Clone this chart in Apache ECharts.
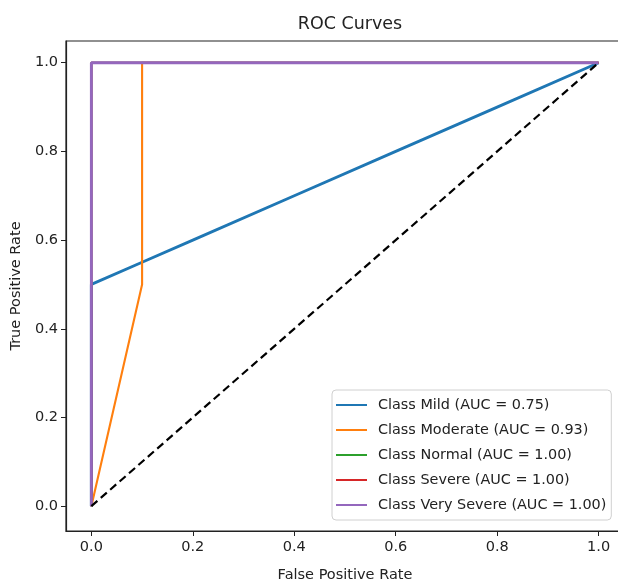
<!DOCTYPE html>
<html><head><meta charset="utf-8">
<script src="https://cdn.jsdelivr.net/npm/echarts@6/dist/echarts.min.js"></script>
<style>html,body{margin:0;padding:0;background:#fff}#c{width:618px;height:583px}</style>
</head><body><div id="c"></div>
<script>
const tickValues = [0, 0.2, 0.4, 0.6, 0.8, 1.0];
const seriesNames = ['Class Mild (AUC = 0.75)', 'Class Moderate (AUC = 0.93)', 'Class Normal (AUC = 1.00)', 'Class Severe (AUC = 1.00)', 'Class Very Severe (AUC = 1.00)'];
const mildFPR = [0, 0, 0.1, 0.2, 0.4, 0.6, 0.8, 1.0];
const mildTPR = [0, 0.5, 0.55, 0.6, 0.7, 0.8, 0.9, 1.0];
const moderateFPR = [0, 0.1, 0.1, 1.0];
const moderateTPR = [0, 0.5, 1.0, 1.0];
const normalFPR = [0, 0, 1.0];
const normalTPR = [0, 1.0, 1.0];
const severeFPR = [0, 0, 1.0];
const severeTPR = [0, 1.0, 1.0];
const verySevereFPR = [0, 0, 1.0];
const verySevereTPR = [0, 1.0, 1.0];
const chanceFPR = [0, 1];
const chanceTPR = [0, 1];
const colors = ['#1f77b4', '#ff7f0e', '#2ca02c', '#d62728', '#9467bd'];
const widths = [2.9, 2.1, 2.1, 2.1, 2.9];

const zip = (a, b) => a.map((v, i) => [v, b[i]]);
const curves = [zip(mildFPR, mildTPR), zip(moderateFPR, moderateTPR), zip(normalFPR, normalTPR), zip(severeFPR, severeTPR), zip(verySevereFPR, verySevereTPR)];

const font = 'DejaVu Sans';
const series = curves.map((d, i) => ({
  name: seriesNames[i], type: 'line', data: d, symbol: 'none', animation: false,
  lineStyle: { color: colors[i], width: widths[i] }, itemStyle: { color: colors[i] }, z: 2 + i
}));
series.push({
  name: 'chance', type: 'line', data: zip(chanceFPR, chanceTPR), symbol: 'none', animation: false,
  lineStyle: { color: '#000', width: 2.2, type: [8, 4.5] }, z: 10
});

const chart = echarts.init(document.getElementById('c'));
chart.setOption({
  backgroundColor: '#fff',
  animation: false,
  title: { text: 'ROC Curves', left: 345, top: 10, textAlign: 'center',
    textStyle: { fontFamily: font, fontSize: 17.5, fontWeight: 'normal', color: '#222' } },
  grid: { left: 66, top: 41, width: 558, height: 490, show: true, borderColor: '#222', borderWidth: 1.2,
    backgroundColor: 'transparent', containLabel: false, outerBoundsMode: 'none' },
  legend: {
    data: seriesNames, orient: 'vertical', left: 332, top: 390,
    itemWidth: 31, itemHeight: 2, itemGap: 11,
    backgroundColor: '#fff', borderColor: '#d0d0d0', borderWidth: 1, borderRadius: 4,
    padding: [8, 5, 8, 3],
    textStyle: { fontFamily: font, fontSize: 14.4, color: '#222', padding: [0, 0, 0, 6] }
  },
  xAxis: {
    type: 'value', min: -0.05, max: 1.05,
    name: 'False Positive Rate', nameLocation: 'middle', nameGap: 37,
    nameTextStyle: { fontFamily: font, fontSize: 14.5, color: '#222' },
    splitLine: { show: false },
    axisLine: { show: true, onZero: false, lineStyle: { color: '#222', width: 1.2 } },
    axisTick: { show: true, length: 5, customValues: tickValues, lineStyle: { color: '#222' } },
    axisLabel: { customValues: tickValues, formatter: v => v.toFixed(1), fontFamily: font, fontSize: 14.5, color: '#222', margin: 9 }
  },
  yAxis: {
    type: 'value', min: -0.056, max: 1.049,
    name: 'True Positive Rate', nameLocation: 'middle', nameGap: 41,
    nameTextStyle: { fontFamily: font, fontSize: 14.5, color: '#222' },
    splitLine: { show: false },
    axisLine: { show: true, onZero: false, lineStyle: { color: '#222', width: 1.2 } },
    axisTick: { show: true, length: 5, customValues: tickValues, lineStyle: { color: '#222' } },
    axisLabel: { customValues: tickValues, formatter: v => v.toFixed(1), fontFamily: font, fontSize: 14.5, color: '#222', margin: 8 }
  },
  series: series
});
</script></body></html>
